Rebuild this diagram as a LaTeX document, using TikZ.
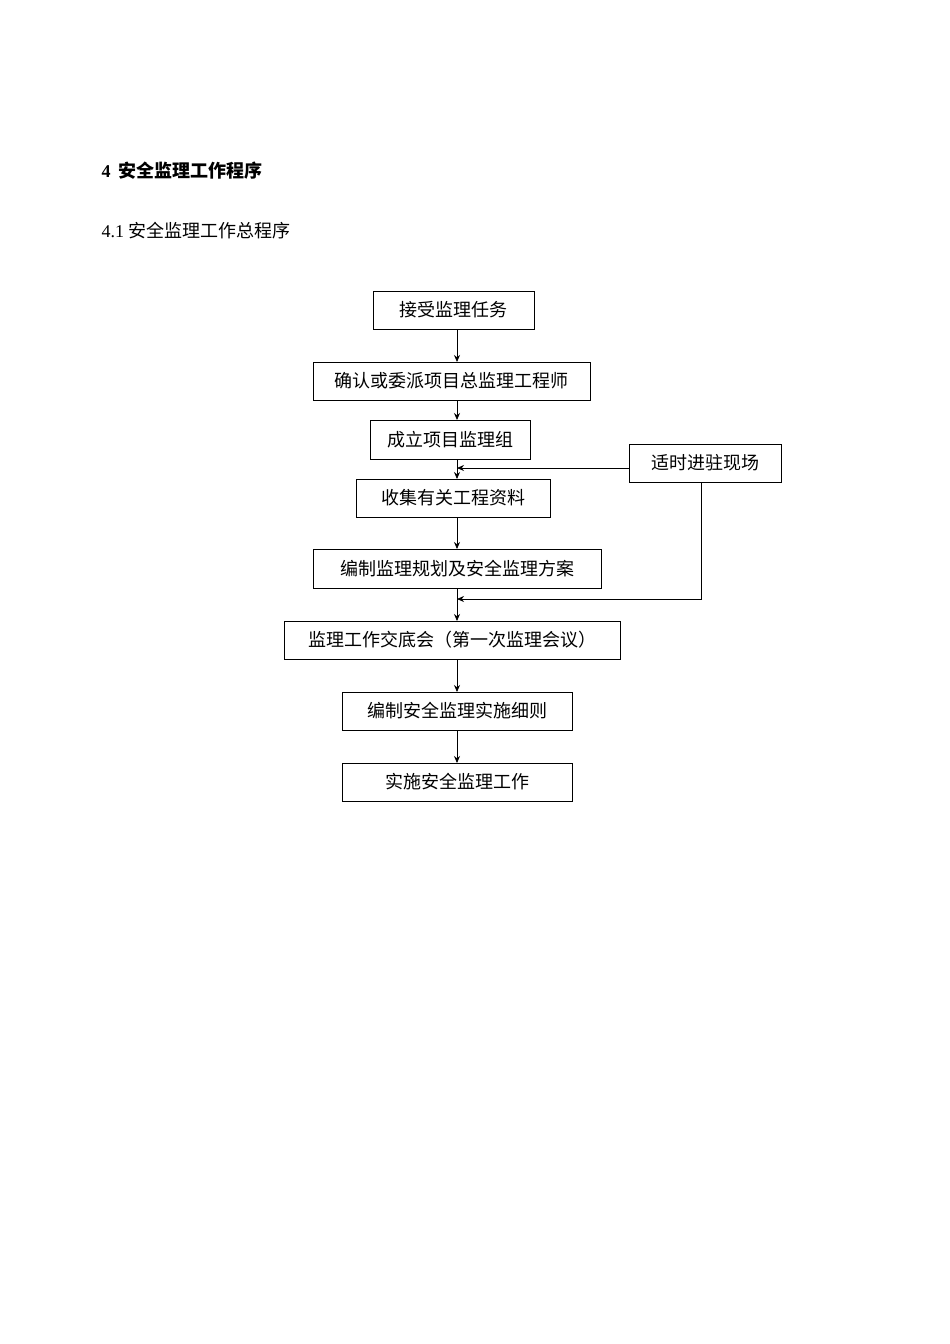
\documentclass[tikz,border=0pt]{standalone}
\usepackage{fontspec}
\setmainfont{Liberation Serif}
\newfontfamily\cjk{Noto Sans CJK SC}
\usetikzlibrary{arrows.meta}
\begin{document}
\begin{tikzpicture}[x=1pt,y=-1pt,
  bx/.style={draw,line width=0.8pt,font=\cjk\fontsize{18}{20}\selectfont,inner sep=0pt},
  ar/.style={line width=0.8pt,-{Stealth[length=7pt,width=6pt]}}]
\useasboundingbox (0,0) rectangle (950,1344);
\node[anchor=west,font=\fontsize{18}{20}\selectfont\bfseries] (h1) at (98,171) {4\hspace{8pt}{\cjk\bfseries 安全监理工作程序}};
\node[anchor=west,font=\fontsize{18}{20}\selectfont] (h2) at (98,231) {4.1 {\cjk 安全监理工作总程序}};
\node[bx,minimum width=161,minimum height=38] (b1) at (453.5,310) {接受监理任务};
\node[bx,minimum width=277,minimum height=38] (b2) at (451.5,381) {确认或委派项目总监理工程师};
\node[bx,minimum width=160,minimum height=39] (b3) at (450,439.5) {成立项目监理组};
\node[bx,minimum width=152,minimum height=38] (b4) at (705,463) {适时进驻现场};
\node[bx,minimum width=194,minimum height=38] (b5) at (453,498) {收集有关工程资料};
\node[bx,minimum width=288,minimum height=39] (b6) at (457,568.5) {编制监理规划及安全监理方案};
\node[bx,minimum width=336,minimum height=38] (b7) at (452,640) {监理工作交底会（第一次监理会议）};
\node[bx,minimum width=230,minimum height=38] (b8) at (457,711) {编制安全监理实施细则};
\node[bx,minimum width=230,minimum height=38] (b9) at (457,782) {实施安全监理工作};
\coordinate (c1) at (457,468);
\coordinate (c2) at (701,599);
\coordinate (c3) at (457,599);
\draw[ar] (457,329) -- (457,362);
\draw[ar] (457,400) -- (457,420);
\draw[ar] (457,459) -- (457,479);
\draw[ar] (457,517) -- (457,549);
\draw[ar] (457,588) -- (457,621);
\draw[ar] (457,659) -- (457,692);
\draw[ar] (457,730) -- (457,763);
\draw[ar] (b4.west |- c1) -- (c1);
\draw[ar] (701,482) -- (c2) -- (c3);
\end{tikzpicture}
\end{document}
